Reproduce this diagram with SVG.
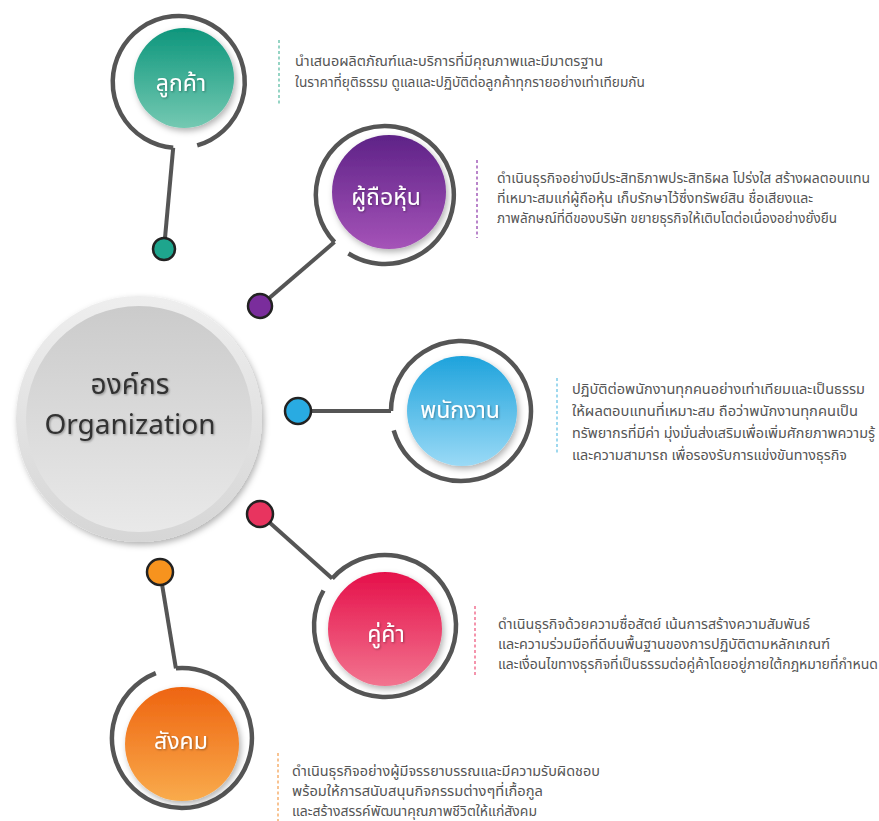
<svg xmlns="http://www.w3.org/2000/svg" width="879" height="821" viewBox="0 0 879 821">
<defs>
  <linearGradient id="gTeal" x1="0" y1="0" x2="0" y2="1"><stop offset="0" stop-color="#0d967c"/><stop offset="1" stop-color="#74c9b2"/></linearGradient>
  <linearGradient id="gPurple" x1="0" y1="0" x2="0" y2="1"><stop offset="0" stop-color="#5e2287"/><stop offset="1" stop-color="#a553b8"/></linearGradient>
  <linearGradient id="gBlue" x1="0" y1="0" x2="0" y2="1"><stop offset="0" stop-color="#1ea3dc"/><stop offset="1" stop-color="#9adaf6"/></linearGradient>
  <linearGradient id="gPink" x1="0" y1="0" x2="0" y2="1"><stop offset="0" stop-color="#e5104a"/><stop offset="1" stop-color="#f2748f"/></linearGradient>
  <linearGradient id="gOrange" x1="0" y1="0" x2="0" y2="1"><stop offset="0" stop-color="#ee6410"/><stop offset="1" stop-color="#f9ab4c"/></linearGradient>
  <linearGradient id="gRim" x1="0" y1="0" x2="0" y2="1"><stop offset="0" stop-color="#eeeeee"/><stop offset="1" stop-color="#d6d6d6"/></linearGradient>
  <linearGradient id="gCore" x1="0" y1="0" x2="0" y2="1"><stop offset="0" stop-color="#cbcbcb"/><stop offset="1" stop-color="#e9e9e9"/></linearGradient>
  <filter id="sh" x="-20%" y="-20%" width="140%" height="140%"><feDropShadow dx="2" dy="3" stdDeviation="3" flood-color="#000" flood-opacity="0.3"/></filter>
  <filter id="tsh" x="-10%" y="-20%" width="120%" height="140%"><feDropShadow dx="1" dy="1" stdDeviation="0.8" flood-color="#000" flood-opacity="0.35"/></filter>
</defs>
<style>
  .ring{fill:none;stroke:#555;stroke-width:4.5}
  .conn{fill:none;stroke:#555;stroke-width:4}
  .dot{stroke:#222;stroke-width:2.5}
  .lbl{font-family:"Noto Sans Thai","Noto Sans Thai UI","Noto Sans","DejaVu Sans",sans-serif;font-size:23px;fill:#fff;text-anchor:middle}
  .desc{font-family:"Noto Sans Thai","Noto Sans Thai UI","Noto Sans","DejaVu Sans",sans-serif;font-size:14px;fill:#555}
  .org{font-family:"Noto Sans Thai","Open Sans","Noto Sans",sans-serif;font-size:28px;fill:#333;text-anchor:middle}
  .dash{stroke-width:1.6;stroke-dasharray:3 2.5;fill:none}
</style>

<g id="connectors">
  <path class="conn" d="M164 249 L173.2 147.8"/>
  <path class="conn" d="M260 306 L334.5 242.1"/>
  <path class="conn" d="M298 411 L391 411"/>
  <path class="conn" d="M260 514 L332.2 578.5"/>
  <path class="conn" d="M160 572 L175.9 668.3"/>
</g>

<g id="organization">
  <circle cx="139" cy="419" r="123" fill="url(#gRim)" filter="url(#sh)"/>
  <circle cx="139" cy="419" r="113" fill="url(#gCore)"/>
  <text class="org" x="130" y="394" filter="url(#tsh)">องค์กร</text>
  <text class="org" x="130" y="434" filter="url(#tsh)">Organization</text>
</g>

<g id="customer">
  <path class="ring" d="M173.2 147.8 A66 66 0 1 1 197.2 145.4"/>
  <circle cx="184" cy="78" r="50" fill="url(#gTeal)" filter="url(#sh)"/>
  <text class="lbl" x="181" y="91" filter="url(#tsh)">ลูกค้า</text>
  <circle class="dot" cx="164" cy="249" r="11" fill="#1ea58d"/>
  <line class="dash" x1="279" y1="40" x2="279" y2="104" stroke="#7ccab6"/>
  <text class="desc" x="295" y="66" textLength="308" lengthAdjust="spacingAndGlyphs">นำเสนอผลิตภัณฑ์และบริการที่มีคุณภาพและมีมาตรฐาน</text>
  <text class="desc" x="295" y="87" textLength="350" lengthAdjust="spacingAndGlyphs">ในราคาที่ยุติธรรม ดูแลและปฏิบัติต่อลูกค้าทุกรายอย่างเท่าเทียมกัน</text>
</g>

<g id="shareholder">
  <path class="ring" d="M334.5 242.1 A69 69 0 1 1 348.4 253.5"/>
  <circle cx="389" cy="192" r="57" fill="url(#gPurple)" filter="url(#sh)"/>
  <text class="lbl" x="386" y="205" filter="url(#tsh)">ผู้ถือหุ้น</text>
  <circle class="dot" cx="260" cy="306" r="12" fill="#7a2d9c"/>
  <line class="dash" x1="477" y1="160" x2="477" y2="238" stroke="#a866bd"/>
  <text class="desc" x="497" y="183" textLength="373" lengthAdjust="spacingAndGlyphs">ดำเนินธุรกิจอย่างมีประสิทธิภาพประสิทธิผล โปร่งใส สร้างผลตอบแทน</text>
  <text class="desc" x="497" y="203" textLength="316" lengthAdjust="spacingAndGlyphs">ที่เหมาะสมแก่ผู้ถือหุ้น เก็บรักษาไว้ซึ่งทรัพย์สิน ชื่อเสียงและ</text>
  <text class="desc" x="497" y="223" textLength="340" lengthAdjust="spacingAndGlyphs">ภาพลักษณ์ที่ดีของบริษัท ขยายธุรกิจให้เติบโตต่อเนื่องอย่างยั่งยืน</text>
</g>

<g id="employee">
  <path class="ring" d="M391 411 A70 70 0 1 1 393.7 430.3"/>
  <circle cx="462" cy="411" r="55" fill="url(#gBlue)" filter="url(#sh)"/>
  <text class="lbl" x="460" y="418" filter="url(#tsh)">พนักงาน</text>
  <circle class="dot" cx="298" cy="411" r="13" fill="#29abe2"/>
  <line class="dash" x1="557" y1="378" x2="557" y2="453" stroke="#86cfea"/>
  <text class="desc" x="572" y="394" textLength="293" lengthAdjust="spacingAndGlyphs">ปฏิบัติต่อพนักงานทุกคนอย่างเท่าเทียมและเป็นธรรม</text>
  <text class="desc" x="572" y="416" textLength="286" lengthAdjust="spacingAndGlyphs">ให้ผลตอบแทนที่เหมาะสม ถือว่าพนักงานทุกคนเป็น</text>
  <text class="desc" x="572" y="438" textLength="303" lengthAdjust="spacingAndGlyphs">ทรัพยากรที่มีค่า มุ่งมั่นส่งเสริมเพื่อเพิ่มศักยภาพความรู้</text>
  <text class="desc" x="572" y="460" textLength="275" lengthAdjust="spacingAndGlyphs">และความสามารถ เพื่อรองรับการแข่งขันทางธุรกิจ</text>
</g>

<g id="partner">
  <path class="ring" d="M332.2 578.5 A71 71 0 1 1 323.5 590.5"/>
  <circle cx="385" cy="629" r="57" fill="url(#gPink)" filter="url(#sh)"/>
  <text class="lbl" x="386" y="642" filter="url(#tsh)">คู่ค้า</text>
  <circle class="dot" cx="260" cy="514" r="13" fill="#e8345f"/>
  <line class="dash" x1="475" y1="606" x2="475" y2="676" stroke="#f27a98"/>
  <text class="desc" x="498" y="629" textLength="312" lengthAdjust="spacingAndGlyphs">ดำเนินธุรกิจด้วยความซื่อสัตย์ เน้นการสร้างความสัมพันธ์</text>
  <text class="desc" x="498" y="649" textLength="332" lengthAdjust="spacingAndGlyphs">และความร่วมมือที่ดีบนพื้นฐานของการปฏิบัติตามหลักเกณฑ์</text>
  <text class="desc" x="498" y="669" textLength="380" lengthAdjust="spacingAndGlyphs">และเงื่อนไขทางธุรกิจที่เป็นธรรมต่อคู่ค้าโดยอยู่ภายใต้กฎหมายที่กำหนด</text>
</g>

<g id="society">
  <path class="ring" d="M175.9 668.3 A70 70 0 1 1 155.8 673.1"/>
  <circle cx="182" cy="744" r="57" fill="url(#gOrange)" filter="url(#sh)"/>
  <text class="lbl" x="181" y="749" filter="url(#tsh)">สังคม</text>
  <circle class="dot" cx="160" cy="572" r="13" fill="#f7931e"/>
  <line class="dash" x1="278" y1="753" x2="278" y2="821" stroke="#f7b577"/>
  <text class="desc" x="292" y="776" textLength="308" lengthAdjust="spacingAndGlyphs">ดำเนินธุรกิจอย่างผู้มีจรรยาบรรณและมีความรับผิดชอบ</text>
  <text class="desc" x="292" y="796" textLength="251" lengthAdjust="spacingAndGlyphs">พร้อมให้การสนับสนุนกิจกรรมต่างๆที่เกื้อกูล</text>
  <text class="desc" x="292" y="816" textLength="245" lengthAdjust="spacingAndGlyphs">และสร้างสรรค์พัฒนาคุณภาพชีวิตให้แก่สังคม</text>
</g>
</svg>
